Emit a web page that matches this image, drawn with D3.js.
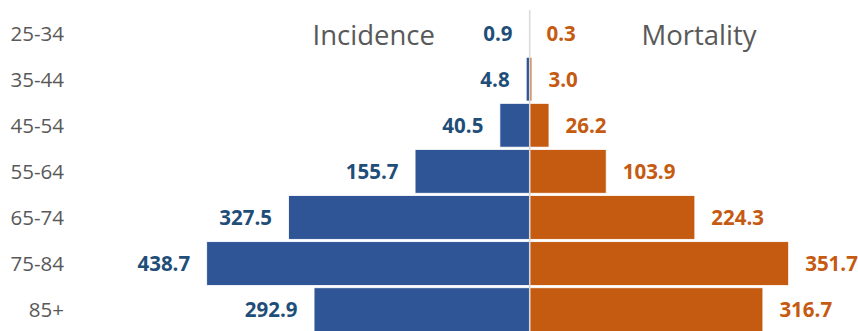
<!DOCTYPE html>
<html>
<head>
<meta charset="utf-8">
<script src="https://cdn.jsdelivr.net/npm/d3@7"></script>
<style>
  html, body { margin: 0; padding: 0; background: #fff; }
  svg { display: block; }
</style>
</head>
<body>
<svg id="chart" width="858" height="331"></svg>
<script>
const categories = ["25-34", "35-44", "45-54", "55-64", "65-74", "75-84", "85+"];
const incidence = [0.9, 4.8, 40.5, 155.7, 327.5, 438.7, 292.9];
const mortality = [0.3, 3.0, 26.2, 103.9, 224.3, 351.7, 316.7];
const seriesNames = ["Incidence", "Mortality"];

const W = 858, H = 331;
const cx = 529.7;
const pxPerUnit = 0.7363;
const maxV = 500;

const svg = d3.select("#chart");
const font = "'Open Sans', 'Liberation Sans', sans-serif";

const y = d3.scaleBand().domain(categories).range([10, 10 + 7 * 46.1]).paddingInner(0.05).paddingOuter(0.025);
const xL = d3.scaleLinear().domain([0, maxV]).range([cx, cx - maxV * pxPerUnit]);
const xR = d3.scaleLinear().domain([0, maxV]).range([cx, cx + maxV * pxPerUnit]);

const rows = categories.map((c, i) => ({ c, inc: incidence[i], mor: mortality[i] }));

// bars
svg.append("g").selectAll("rect").data(rows).join("rect")
  .attr("x", d => xL(d.inc)).attr("y", d => y(d.c))
  .attr("width", d => xL(0) - xL(d.inc)).attr("height", y.bandwidth())
  .attr("fill", "#2F5597").attr("stroke", "#fff").attr("stroke-width", 0.8);
svg.append("g").selectAll("rect").data(rows).join("rect")
  .attr("x", xR(0)).attr("y", d => y(d.c))
  .attr("width", d => xR(d.mor) - xR(0)).attr("height", y.bandwidth())
  .attr("fill", "#C55A11").attr("stroke", "#fff").attr("stroke-width", 0.8);

// center axis line
svg.append("line").attr("x1", cx).attr("x2", cx).attr("y1", 10).attr("y2", H)
  .attr("stroke", "#D9D9D9").attr("stroke-width", 1.5);

const mid = d => y(d.c) + y.bandwidth() / 2;

// value labels
svg.append("g").selectAll("text").data(rows).join("text")
  .attr("x", d => xL(d.inc) - 16.5).attr("y", d => mid(d) + 7.5)
  .attr("text-anchor", "end")
  .attr("font-family", font).attr("font-weight", 700).attr("font-size", 20.5)
  .attr("fill", "#1F4E79")
  .text(d => d.inc.toFixed(1));
svg.append("g").selectAll("text").data(rows).join("text")
  .attr("x", d => xR(d.mor) + 16.5).attr("y", d => mid(d) + 7.5)
  .attr("text-anchor", "start")
  .attr("font-family", font).attr("font-weight", 700).attr("font-size", 20.5)
  .attr("fill", "#C55A11")
  .text(d => d.mor.toFixed(1));

// category labels
svg.append("g").selectAll("text").data(rows).join("text")
  .attr("x", 64).attr("y", d => mid(d) + 7.5)
  .attr("text-anchor", "end")
  .attr("font-family", font).attr("font-size", 20.5)
  .attr("fill", "#595959")
  .text(d => d.c);

// series titles
svg.append("text").attr("x", 312.5).attr("y", 45)
  .attr("font-family", font).attr("font-size", 27.5).attr("fill", "#595959")
  .text(seriesNames[0]);
svg.append("text").attr("x", 641.5).attr("y", 45)
  .attr("font-family", font).attr("font-size", 27.5).attr("fill", "#595959")
  .text(seriesNames[1]);
</script>
</body>
</html>
